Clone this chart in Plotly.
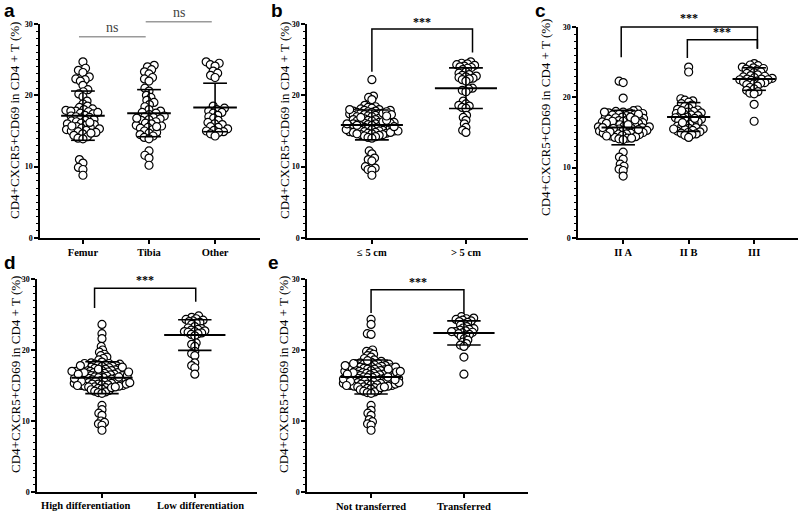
import numpy as np
import plotly.graph_objects as go

W, H = 800, 515

# ------------------------- data -------------------------
# panel a : location
cats_a = ["Femur", "Tibia", "Other"]
femur = [24.7, 23.8, 23.5, 23.2, 22.6, 22.3, 22.2, 22.0, 21.4, 20.8, 20.5, 20.2,
         19.8, 19.2, 18.8, 18.5, 18.3,
         18.1, 18.0, 17.9, 17.8, 17.8, 17.7, 17.5, 17.4, 17.2, 17.1, 17.0, 16.9, 16.8, 16.6,
         16.5, 16.4, 16.3, 16.1, 16.0, 15.9, 15.8, 15.6, 15.5, 15.4, 15.3, 15.2, 15.1, 15.0,
         14.9, 14.8, 14.6, 14.4, 14.2, 14.0, 13.9, 17.6, 16.2, 15.7, 14.7,
         11.0, 10.5, 9.9, 9.6, 8.8]
tibia = [24.2, 24.0, 23.6, 23.3, 23.0, 22.5, 22.3, 22.0,
         21.0, 20.6, 20.0, 19.7, 19.3, 19.0, 18.7, 18.4,
         18.0, 17.8, 17.6, 17.5, 17.3, 17.1, 17.0, 16.9, 16.7, 16.6, 16.5, 16.3, 16.1, 16.0,
         15.8, 15.7, 15.5, 15.4, 15.2, 15.0, 14.8, 14.7, 14.5, 14.3, 14.1, 13.9, 16.8, 15.6,
         12.2, 11.6, 11.2, 10.2]
other = [24.7, 24.5, 24.3, 24.1, 23.4, 23.1, 22.8, 22.5,
         18.5, 18.2, 18.0, 17.8, 17.6, 17.5, 17.2, 17.0, 16.8, 16.5, 16.2, 16.0, 15.9, 15.6,
         15.5, 15.3, 15.1, 15.0, 14.9, 14.8, 14.6, 14.3]
mean_a = [17.15, 17.5, 18.3]
sd_a = [3.45, 3.3, 3.4]

# panel b : tumour size
cats_b = ["\u2264 5 cm", "> 5 cm"]
size_le5 = [22.2, 19.9, 19.7, 19.4, 18.6, 18.4, 18.3,
            18.2, 18.1, 18.0, 17.9, 17.9, 17.8, 17.8, 17.7, 17.6, 17.6, 17.5, 17.4, 17.4, 17.3,
            17.2, 17.2, 17.1, 17.0, 17.0, 16.9, 16.8, 16.8, 16.7, 16.6, 16.6, 16.5, 16.4, 16.4,
            16.3, 16.2, 16.2, 16.1, 16.0, 16.0, 15.9, 15.9, 15.8, 15.7, 15.7, 15.6, 15.6, 15.5,
            15.4, 15.4, 15.3, 15.3, 15.2, 15.2, 15.1, 15.1, 15.0, 15.0, 14.9, 14.9, 14.8, 14.8,
            14.7, 14.7, 14.6, 14.5, 14.5, 14.4, 14.3, 14.2, 14.1, 14.0, 17.5, 16.3, 15.8, 15.5,
            16.9, 17.7, 15.0, 14.6, 16.1, 17.3, 16.5, 15.2, 14.8, 17.1, 16.0, 15.6, 18.0,
            12.2, 11.8, 11.2, 11.0, 10.8, 10.0, 9.8, 9.6, 9.5, 8.8]
size_gt5 = [24.7, 24.5, 24.4, 24.3, 24.2, 24.1, 24.0, 23.9, 23.8, 23.6, 23.3, 23.1, 22.9,
            22.8, 22.7, 22.6, 22.5, 22.4, 22.3, 22.2, 22.0, 21.0, 20.9, 20.7, 20.5,
            19.2, 18.8, 18.6, 18.5, 18.3, 18.2, 17.2, 16.9, 16.5, 16.0, 15.5, 15.1, 14.8]
mean_b = [15.85, 21.0]
sd_b = [2.1, 2.85]

# panel c : stage
cats_c = ["II A", "II B", "III"]
stage_2a = [22.3, 22.1, 19.9,
            18.2, 18.1, 18.0, 17.9, 17.8, 17.8, 17.7, 17.6, 17.5, 17.5, 17.4, 17.3, 17.2, 17.1,
            17.0, 16.9, 16.9, 16.8, 16.7, 16.6, 16.5, 16.5, 16.4, 16.3, 16.2, 16.1, 16.0, 16.0,
            15.9, 15.8, 15.8, 15.7, 15.6, 15.5, 15.5, 15.4, 15.3, 15.3, 15.2, 15.1, 15.0, 15.0,
            14.9, 14.8, 14.8, 14.7, 14.6, 14.5, 14.4, 14.3, 14.2, 14.1, 14.0, 17.6, 16.6, 15.6,
            15.1, 14.9, 16.3, 17.2, 15.4, 14.5, 16.8, 17.9, 15.7, 16.1, 14.2,
            12.2, 11.5, 11.2, 10.5, 10.2, 9.8, 9.6, 8.8]
stage_2b = [24.3, 23.6, 19.8, 19.6, 19.5, 19.3, 19.1, 18.9, 18.7, 18.5, 18.3, 18.2, 18.0,
            17.9, 17.8, 17.7, 17.6, 17.5, 17.4, 17.3, 17.2, 17.1, 17.0, 16.9, 16.8, 16.7, 16.6,
            16.5, 16.3, 16.2, 16.0, 15.9, 15.8, 15.7, 15.6, 15.5, 15.4, 15.3, 15.2, 15.1, 15.0,
            14.9, 14.8, 14.7, 14.6, 14.3, 18.1, 17.0, 16.4, 15.5]
stage_3 = [24.8, 24.6, 24.5, 24.3, 24.2, 24.1, 24.0, 23.9, 23.8, 23.6, 23.5, 23.4, 23.2,
           23.1, 23.0, 22.9, 22.8, 22.7, 22.6, 22.6, 22.5, 22.5, 22.4, 22.3, 22.2, 22.1, 22.0,
           21.9, 21.8, 21.6, 21.4, 21.2, 21.0, 20.8, 20.6, 20.5, 19.0, 16.6]
mean_c = [15.7, 17.2, 22.6]
sd_c = [2.45, 2.05, 1.6]

# panel d : differentiation
cats_d = ["High differentiation", "Low differentiation"]
diff_high = [23.6, 22.3, 21.6, 20.5, 20.0, 19.7, 19.4, 19.2, 19.0, 18.8, 18.6,
             18.3, 18.2, 18.1, 18.0, 18.0, 17.9, 17.9, 17.8, 17.8, 17.7, 17.7, 17.6, 17.5, 17.5,
             17.4, 17.4, 17.3, 17.2, 17.2, 17.1, 17.1, 17.0, 17.0, 16.9, 16.9, 16.8, 16.8, 16.7,
             16.7, 16.6, 16.6, 16.5, 16.5, 16.4, 16.4, 16.3, 16.3, 16.2, 16.2, 16.1, 16.1, 16.0,
             16.0, 15.9, 15.9, 15.8, 15.8, 15.7, 15.7, 15.6, 15.6, 15.5, 15.5, 15.4, 15.4, 15.3,
             15.3, 15.2, 15.2, 15.1, 15.1, 15.0, 15.0, 14.9, 14.9, 14.8, 14.8, 14.7, 14.6, 14.5,
             14.4, 14.3, 14.2, 14.1, 14.0, 13.9, 17.6, 16.8, 15.9, 15.2, 14.7, 17.3, 16.4, 15.6,
             18.1, 16.9, 16.0, 15.4, 17.0, 14.8, 16.6, 15.0, 17.8, 16.2,
             12.2, 11.6, 11.1, 10.8, 10.0, 9.8, 9.6, 9.4, 8.7]
diff_low = [24.8, 24.6, 24.4, 24.3, 24.2, 24.1, 24.0, 23.9, 23.8, 23.6, 23.3, 23.1, 23.0,
            22.9, 22.8, 22.7, 22.6, 22.6, 22.5, 22.4, 22.3, 22.2, 22.0, 21.0, 20.8, 20.5,
            19.8, 19.5, 19.2, 18.2, 17.8, 17.5, 16.6]
mean_d = [16.1, 22.1]
sd_d = [2.25, 2.15]

# panel e : metastasis
cats_e = ["Not transferred", "Transferred"]
not_transferred = [24.3, 23.6, 22.3, 22.2, 20.0, 19.8, 19.6, 19.4, 19.2, 19.0, 18.8, 18.6,
                   18.4, 18.3, 18.2, 18.1, 18.0, 18.0, 17.9, 17.9, 17.8, 17.8, 17.7, 17.7, 17.6,
                   17.6, 17.5, 17.5, 17.4, 17.4, 17.3, 17.3, 17.2, 17.2, 17.1, 17.1, 17.0, 17.0,
                   16.9, 16.9, 16.8, 16.8, 16.7, 16.7, 16.6, 16.6, 16.5, 16.5, 16.4, 16.4, 16.3,
                   16.3, 16.2, 16.2, 16.1, 16.1, 16.0, 16.0, 15.9, 15.9, 15.8, 15.8, 15.7, 15.7,
                   15.6, 15.6, 15.5, 15.5, 15.4, 15.4, 15.3, 15.3, 15.2, 15.2, 15.1, 15.1, 15.0,
                   15.0, 14.9, 14.9, 14.8, 14.8, 14.7, 14.6, 14.5, 14.4, 14.3, 14.2, 14.1, 14.0,
                   13.9, 17.6, 16.8, 15.9, 15.2, 14.7, 17.3, 16.4, 15.6, 18.1, 16.9, 16.0, 15.4,
                   17.0, 14.8, 16.6, 15.0, 17.8, 16.2, 18.5, 15.8,
                   12.2, 11.5, 11.1, 10.8, 10.2, 9.9, 9.6, 9.4, 8.7]
transferred = [24.7, 24.5, 24.4, 24.3, 24.2, 24.1, 24.0, 23.9, 23.7, 23.5, 23.3, 23.1, 23.0,
               22.9, 22.8, 22.7, 22.6, 22.6, 22.5, 22.4, 22.3, 22.2, 22.1, 21.9, 21.6, 21.4,
               21.1, 20.9, 20.7, 20.5, 19.0, 16.6]
mean_e = [16.2, 22.4]
sd_e = [2.4, 1.7]

y_ticks = [0, 10, 20, 30]
y_title = "CD4+CXCR5+CD69 in CD4 + T (%)"

# ------------------------- layout / style -------------------------
SERIF = "Liberation Serif"
SANS = "Liberation Sans"

# label_shift: per-category horizontal offset (category units) of the x labels
panels = [
    dict(letter="a", cats=cats_a, groups=[femur, tibia, other], means=mean_a, sds=sd_a,
         dx=(40, 260), dy=(24, 238), xr=(-0.65, 2.68), d=5.0, tx=15, ty=121, lx=2, ly=-2,
         label_shift=None),
    dict(letter="b", cats=cats_b, groups=[size_le5, size_gt5], means=mean_b, sds=sd_b,
         dx=(307, 528), dy=(24, 238), xr=(-0.69, 1.66), d=3.9, tx=285, ty=121, lx=269, ly=-2,
         label_shift=None),
    dict(letter="c", cats=cats_c, groups=[stage_2a, stage_2b, stage_3], means=mean_c, sds=sd_c,
         dx=(578, 798), dy=(27, 238), xr=(-0.69, 2.67), d=4.3, tx=546, ty=118, lx=533, ly=-2,
         label_shift=None),
    dict(letter="d", cats=cats_d, groups=[diff_high, diff_low], means=mean_d, sds=sd_d,
         dx=(37, 257), dy=(279, 492), xr=(-0.70, 1.67), d=3.8, tx=15, ty=375, lx=2, ly=250,
         label_shift=[-0.17, 0.06]),
    dict(letter="e", cats=cats_e, groups=[not_transferred, transferred], means=mean_e, sds=sd_e,
         dx=(307, 528), dy=(279, 492), xr=(-0.69, 1.69), d=3.8, tx=283, ty=375, lx=266, ly=250,
         label_shift=None),
]

# significance markers: (x0, x1, top, left_end, right_end, label, text_y, color, drops)
brackets = [
    [(-0.06, 0.95, 28.2, None, None, "ns", 29.5, "#9a9a9a", False),
     (0.95, 1.95, 30.3, None, None, "ns", 31.6, "#9a9a9a", False)],
    [(0.0, 1.07, 29.3, 23.3, 26.0, "***", 30.3, "black", True)],
    [(-0.03, 2.05, 30.0, 25.7, 26.9, "***", 31.3, "black", True),
     (0.98, 2.05, 28.2, 25.6, 26.9, "***", 29.3, "black", True)],
    [(-0.08, 1.01, 28.7, 25.9, 26.8, "***", 29.9, "black", True)],
    [(0.0, 1.0, 28.5, 25.2, 25.1, "***", 29.6, "black", True)],
]


def swarm(vals, ppu_y, ppu_x, d):
    """simple beeswarm: offsets (data units) so circles of spacing d px don't collide"""
    vals = np.asarray(vals, float)
    order = np.argsort(vals, kind="stable")
    placed = []
    offs = np.zeros(len(vals))
    for i in order:
        y = vals[i] * ppu_y
        near = [(px, py) for px, py in placed if abs(py - y) < d]
        cands = [0.0]
        for px, py in near:
            dx = np.sqrt(max(d * d - (py - y) ** 2, 0))
            cands += [px - dx, px + dx]
        cands.sort(key=lambda c: (abs(c), c))
        chosen = 0.0
        for c in cands:
            if all((c - px) ** 2 + (y - py) ** 2 >= d * d - 1e-6 for px, py in near):
                chosen = c
                break
        placed.append((chosen, y))
        offs[i] = chosen / ppu_x
    return offs


fig = go.Figure()
shapes = []
annotations = []
tick_font = dict(family=SERIF, size=10.5, color="black", weight="bold")

for n, p in enumerate(panels, start=1):
    sfx = "" if n == 1 else str(n)
    xa, ya = "x" + sfx, "y" + sfx
    x0p, x1p = p["dx"]
    y0p, y1p = p["dy"]
    ppu_x = (x1p - x0p) / (p["xr"][1] - p["xr"][0])
    ppu_y = (y1p - y0p) / 30.0

    def to_paper(xv, yv, p=p):
        xp = p["dx"][0] + (xv - p["xr"][0]) / (p["xr"][1] - p["xr"][0]) * (p["dx"][1] - p["dx"][0])
        yp = p["dy"][1] - yv / 30.0 * (p["dy"][1] - p["dy"][0])
        return xp / W, 1 - yp / H

    for gi, vals in enumerate(p["groups"]):
        offs = swarm(vals, ppu_y, ppu_x, p["d"])
        fig.add_trace(go.Scatter(
            x=gi + offs, y=vals, mode="markers", xaxis=xa, yaxis=ya, showlegend=False,
            marker=dict(symbol="circle", size=8, color="white",
                        line=dict(color="black", width=1.2)),
            cliponaxis=False, hoverinfo="y"))
        m, s = p["means"][gi], p["sds"][gi]
        # mean line, SD caps, SD stem
        shapes.append(dict(type="line", xref=xa, yref=ya, x0=gi - 0.33, x1=gi + 0.33, y0=m, y1=m,
                           line=dict(color="black", width=2)))
        for yy in (m - s, m + s):
            shapes.append(dict(type="line", xref=xa, yref=ya, x0=gi - 0.18, x1=gi + 0.18,
                               y0=yy, y1=yy, line=dict(color="black", width=1.6)))
        shapes.append(dict(type="line", xref=xa, yref=ya, x0=gi, x1=gi, y0=m - s, y1=m + s,
                           line=dict(color="black", width=1.6)))

    for (bx0, bx1, top, le, re, lab, ty, col, drops) in brackets[n - 1]:
        if drops:
            a = to_paper(bx0, le); b = to_paper(bx0, top); c = to_paper(bx1, top); dd = to_paper(bx1, re)
            path = f"M{a[0]},{a[1]} L{b[0]},{b[1]} L{c[0]},{c[1]} L{dd[0]},{dd[1]}"
            shapes.append(dict(type="path", xref="paper", yref="paper", path=path,
                               line=dict(color=col, width=1.5)))
            fnt = dict(family=SERIF, size=12, color="#000000", weight="bold")
        else:
            a = to_paper(bx0, top); c = to_paper(bx1, top)
            shapes.append(dict(type="line", xref="paper", yref="paper", x0=a[0], y0=a[1],
                               x1=c[0], y1=c[1], line=dict(color=col, width=1.5)))
            fnt = dict(family=SERIF, size=14, color="#444444")
        tx, tyy = to_paper((bx0 + bx1) / 2, ty)
        annotations.append(dict(x=tx, y=tyy, xref="paper", yref="paper", text=lab, showarrow=False,
                                xanchor="center", yanchor="middle", font=fnt))

    shift = p["label_shift"]
    if shift is None:
        ticktext = p["cats"]
    else:
        # labels placed as annotations below the ticks (offset like the reference)
        ticktext = [""] * len(p["cats"])
        for gi, (c, sh) in enumerate(zip(p["cats"], shift)):
            annotations.append(dict(x=gi + sh, y=1 - (y1p + 6) / H, xref=xa, yref="paper",
                                    text=c, showarrow=False, xanchor="center", yanchor="top",
                                    font=tick_font))
    fig.layout["xaxis" + sfx] = dict(
        domain=[x0p / W, x1p / W], anchor=ya, range=list(p["xr"]),
        tickmode="array", tickvals=list(range(len(p["cats"]))), ticktext=ticktext,
        tickangle=0, automargin=False,
        ticks="outside", ticklen=4, tickwidth=1.5, tickcolor="black",
        showline=True, linecolor="black", linewidth=1.5, showgrid=False, zeroline=False,
        tickfont=tick_font, fixedrange=True)
    fig.layout["yaxis" + sfx] = dict(
        domain=[1 - y1p / H, 1 - y0p / H], anchor=xa, range=[0, 30], automargin=False,
        tickmode="array", tickvals=y_ticks, ticks="outside", ticklen=4, tickwidth=1.5,
        tickcolor="black", showline=True, linecolor="black", linewidth=1.5,
        minor=dict(dtick=1, ticks="outside", ticklen=2, tickwidth=1, tickcolor="black"),
        showgrid=False, zeroline=False,
        tickfont=dict(family=SERIF, size=8, color="black", weight="bold"), fixedrange=True)

    annotations.append(dict(x=p["tx"] / W, y=1 - p["ty"] / H, xref="paper", yref="paper",
                            text=y_title, textangle=-90, showarrow=False, xanchor="center",
                            yanchor="middle", font=dict(family=SERIF, size=13, color="black")))
    annotations.append(dict(x=p["lx"] / W, y=1 - p["ly"] / H, xref="paper", yref="paper",
                            text=p["letter"], showarrow=False, xanchor="left", yanchor="top",
                            font=dict(family=SANS, size=19, color="black", weight="bold")))

fig.update_layout(width=W, height=H, margin=dict(l=0, r=0, t=0, b=0, autoexpand=False),
                  paper_bgcolor="white", plot_bgcolor="white", hovermode=False,
                  shapes=shapes, annotations=annotations, showlegend=False)

fig.write_html("out.html", config={"displayModeBar": False},
               post_script="document.body.style.margin='0';document.body.style.overflow='hidden';")
